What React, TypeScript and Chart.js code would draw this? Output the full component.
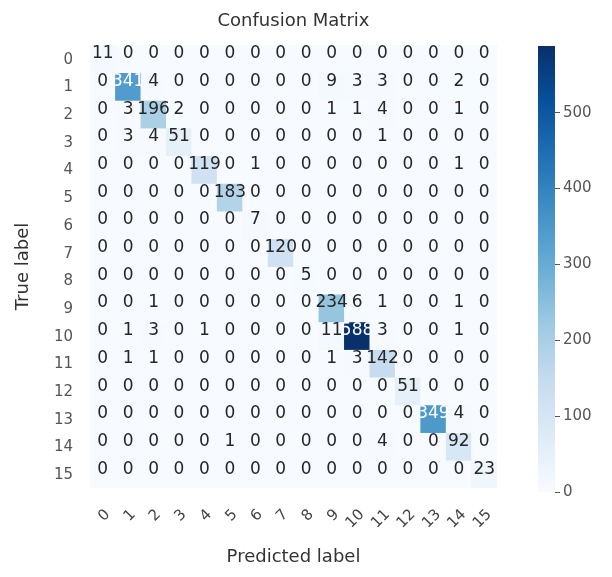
import React, { useEffect, useRef } from 'react';
import { Chart, registerables } from 'chart.js';

Chart.register(...registerables);

// ---- data ----
const classLabels = ['0', '1', '2', '3', '4', '5', '6', '7', '8', '9', '10', '11', '12', '13', '14', '15'];

const row0 = [11, 0, 0, 0, 0, 0, 0, 0, 0, 0, 0, 0, 0, 0, 0, 0];
const row1 = [0, 341, 4, 0, 0, 0, 0, 0, 0, 9, 3, 3, 0, 0, 2, 0];
const row2 = [0, 3, 196, 2, 0, 0, 0, 0, 0, 1, 1, 4, 0, 0, 1, 0];
const row3 = [0, 3, 4, 51, 0, 0, 0, 0, 0, 0, 0, 1, 0, 0, 0, 0];
const row4 = [0, 0, 0, 0, 119, 0, 1, 0, 0, 0, 0, 0, 0, 0, 1, 0];
const row5 = [0, 0, 0, 0, 0, 183, 0, 0, 0, 0, 0, 0, 0, 0, 0, 0];
const row6 = [0, 0, 0, 0, 0, 0, 7, 0, 0, 0, 0, 0, 0, 0, 0, 0];
const row7 = [0, 0, 0, 0, 0, 0, 0, 120, 0, 0, 0, 0, 0, 0, 0, 0];
const row8 = [0, 0, 0, 0, 0, 0, 0, 0, 5, 0, 0, 0, 0, 0, 0, 0];
const row9 = [0, 0, 1, 0, 0, 0, 0, 0, 0, 234, 6, 1, 0, 0, 1, 0];
const row10 = [0, 1, 3, 0, 1, 0, 0, 0, 0, 11, 588, 3, 0, 0, 1, 0];
const row11 = [0, 1, 1, 0, 0, 0, 0, 0, 0, 1, 3, 142, 0, 0, 0, 0];
const row12 = [0, 0, 0, 0, 0, 0, 0, 0, 0, 0, 0, 0, 51, 0, 0, 0];
const row13 = [0, 0, 0, 0, 0, 0, 0, 0, 0, 0, 0, 0, 0, 349, 4, 0];
const row14 = [0, 0, 0, 0, 0, 1, 0, 0, 0, 0, 0, 4, 0, 0, 92, 0];
const row15 = [0, 0, 0, 0, 0, 0, 0, 0, 0, 0, 0, 0, 0, 0, 0, 23];

const matrix = [row0, row1, row2, row3, row4, row5, row6, row7, row8, row9, row10, row11, row12, row13, row14, row15];

const colorbarTicks = [0, 100, 200, 300, 400, 500];
const BLUES = ['#f7fbff', '#deebf7', '#c6dbef', '#9ecae1', '#6baed6', '#4292c6', '#2171b5', '#08519c', '#08306b'];

const vmax = Math.max(...matrix.map((r) => Math.max(...r)));
const thresh = vmax / 2;

function hexToRgb(h: string) {
  const n = parseInt(h.slice(1), 16);
  return [(n >> 16) & 255, (n >> 8) & 255, n & 255];
}
function blues(t: number) {
  const tt = Math.min(1, Math.max(0, t)) * (BLUES.length - 1);
  const i = Math.min(BLUES.length - 2, Math.floor(tt));
  const f = tt - i;
  const a = hexToRgb(BLUES[i]);
  const b = hexToRgb(BLUES[i + 1]);
  const c = a.map((v, k) => Math.round(v + (b[k] - v) * f));
  return `rgb(${c[0]},${c[1]},${c[2]})`;
}

const FONT = "'DejaVu Sans', sans-serif";

const cellTextPlugin = {
  id: 'cellText',
  afterDatasetsDraw(chart: any) {
    const ctx = chart.ctx;
    ctx.save();
    ctx.font = `17px ${FONT}`;
    ctx.textAlign = 'center';
    ctx.textBaseline = 'middle';
    chart.data.datasets.forEach((ds: any, i: number) => {
      const meta = chart.getDatasetMeta(i);
      meta.data.forEach((bar: any, j: number) => {
        const v = ds.values[j];
        const p = bar.getCenterPoint();
        ctx.fillStyle = v > thresh ? '#ffffff' : '#262626';
        ctx.fillText(String(v), p.x, p.y - 5);
      });
    });
    ctx.restore();
  },
};

export default function App() {
  const mainRef = useRef<HTMLCanvasElement>(null);
  const barRef = useRef<HTMLCanvasElement>(null);

  useEffect(() => {
    document.body.style.margin = '0';
    const main = new Chart(mainRef.current!, {
      type: 'bar',
      data: {
        labels: classLabels,
        datasets: matrix.map((row, i) => ({
          label: `True ${classLabels[i]}`,
          data: row.map(() => [i - 0.5, i + 0.5]),
          values: row,
          backgroundColor: row.map((v) => blues(v / vmax)),
          borderWidth: 0,
          grouped: false,
          barPercentage: 1,
          categoryPercentage: 1,
        })) as any,
      },
      options: {
        responsive: false,
        animation: false,
        layout: { padding: { left: 0, right: 115, top: 0, bottom: 0 } },
        plugins: {
          legend: { display: false },
          tooltip: { enabled: false },
          title: {
            display: true,
            fullSize: false,
            text: 'Confusion Matrix',
            color: '#333333',
            font: { family: FONT, size: 18, weight: 'normal' },
            padding: { top: 11, bottom: 12.4 },
          },
        },
        scales: {
          x: {
            type: 'category',
            grid: { display: false, drawTicks: false },
            border: { display: false },
            ticks: {
              color: '#444444',
              font: { family: FONT, size: 15 },
              autoSkip: false,
              minRotation: 45,
              maxRotation: 45,
              padding: 18,
              labelOffset: 5,
            },
            title: {
              display: true,
              text: 'Predicted label',
              color: '#333333',
              font: { family: FONT, size: 18 },
              padding: { top: 0, bottom: 9 },
            },
            afterFit: (s: any) => {
              s.height = 89;
            },
          },
          y: {
            type: 'linear',
            reverse: true,
            min: -0.5,
            max: 15.5,
            grid: { display: false, drawTicks: false },
            border: { display: false },
            afterBuildTicks: (s: any) => {
              s.ticks = classLabels.map((_, k) => ({ value: k }));
            },
            ticks: {
              autoSkip: false,
              color: '#555555',
              font: { family: FONT, size: 15 },
              padding: 17,
              labelOffset: 1,
              callback: (v: any) => classLabels[v] ?? '',
            },
            title: {
              display: true,
              text: 'True label',
              color: '#333333',
              font: { family: FONT, size: 18 },
              padding: { top: 13, bottom: 0 },
            },
            afterFit: (s: any) => {
              s.width = 90;
            },
          },
        },
      } as any,
      plugins: [cellTextPlugin],
    });

    const cbar = new Chart(barRef.current!, {
      type: 'bar',
      data: {
        labels: [''],
        datasets: [
          {
            label: 'colorbar',
            data: [vmax],
            borderWidth: 0,
            barPercentage: 1,
            categoryPercentage: 1,
            backgroundColor: (c: any) => {
              const chart = c.chart;
              const ys = chart.scales.y;
              if (!ys || !chart.chartArea) return BLUES[4];
              const g = chart.ctx.createLinearGradient(0, ys.getPixelForValue(0), 0, ys.getPixelForValue(vmax));
              BLUES.forEach((col, k) => g.addColorStop(k / (BLUES.length - 1), col));
              return g;
            },
          },
        ],
      },
      options: {
        responsive: false,
        animation: false,
        layout: { padding: { left: 13, right: 0, top: 46, bottom: 85 } },
        plugins: { legend: { display: false }, tooltip: { enabled: false } },
        scales: {
          x: { display: false },
          y: {
            position: 'right',
            min: 0,
            max: vmax,
            grid: { drawOnChartArea: false, drawTicks: true, tickLength: 5, tickColor: '#555555', tickWidth: 1 },
            border: { display: false },
            afterBuildTicks: (s: any) => {
              s.ticks = colorbarTicks.map((v) => ({ value: v }));
            },
            ticks: {
              color: '#555555',
              font: { family: FONT, size: 15 },
              padding: 3,
            },
            afterFit: (s: any) => {
              s.width = 57;
            },
          },
        },
      } as any,
    });

    return () => {
      main.destroy();
      cbar.destroy();
    };
  }, []);

  return (
    <div style={{ position: 'relative', width: 612, height: 577 }}>
      <canvas ref={mainRef} width={612} height={577} style={{ position: 'absolute', left: 0, top: 0 }} />
      <canvas ref={barRef} width={87} height={577} style={{ position: 'absolute', left: 525, top: 0 }} />
    </div>
  );
}
